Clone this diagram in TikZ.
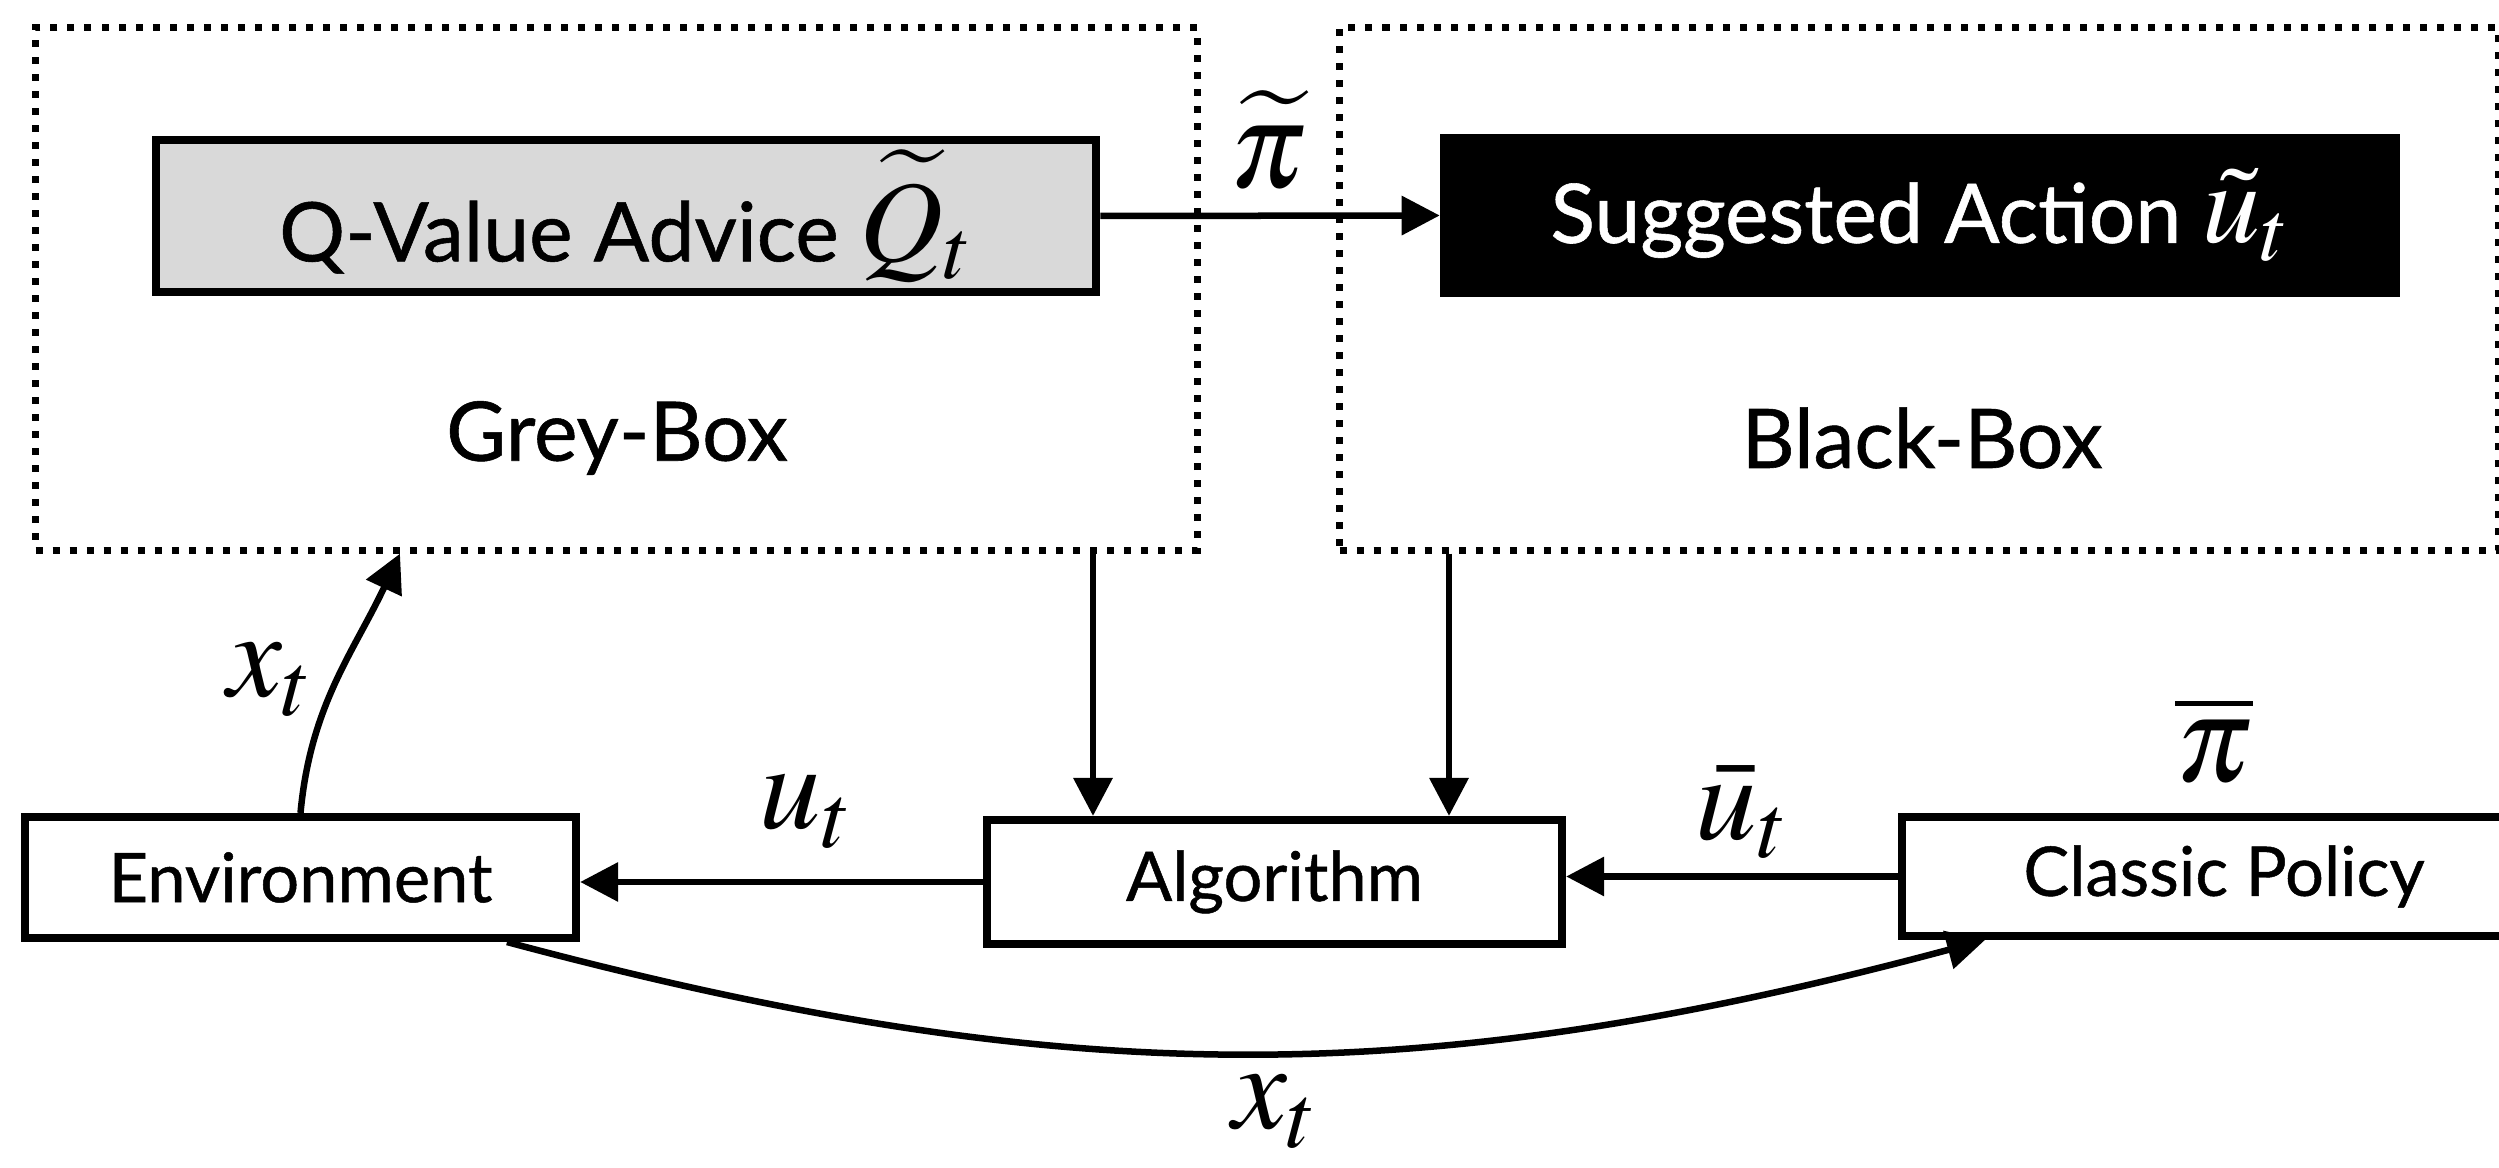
\documentclass[tikz,border=0pt]{standalone}
\usepackage{mathptmx}
\usepackage{fontspec}
\setmainfont{Lato}[FakeBold=0.7]
\usetikzlibrary{arrows.meta}
\definecolor{qgrey}{RGB}{217,217,217}
\tikzset{
  dotbox/.style={draw, line width=0.07cm, dash pattern=on 0.07cm off 0.10cm, minimum height=5.22cm},
  blk/.style={draw, line width=0.08cm, inner sep=0pt},
  arr/.style={-{Triangle[length=0.38cm,width=0.38cm]}, line width=0.065cm},
  txt/.style={font=\fontsize{23.4}{28}\selectfont},
  btxt/.style={font=\fontsize{19.5}{24}\selectfont},
  lbl/.style={font=\fontsize{35}{40}\selectfont, inner sep=0pt},
}
\newcommand{\mybigmath}[1]{{\fontsize{33}{38}\selectfont$#1$}}
\begin{document}
\begin{tikzpicture}[x=0.01cm, y=-0.01cm]
\useasboundingbox (0,0) rectangle (2499,1168);
\clip (0,0) rectangle (2499,1168);
% outer dotted boxes
\node[dotbox, minimum width=11.61cm] (grey) at (616.5,289) {};
\node[txt] (greylbl) at (617,438) {Grey-Box};
\node[dotbox, minimum width=11.58cm] (black) at (1919,289) {};
\node[txt] (blacklbl) at (1922,438) {Black-Box};
% inner boxes
\node[blk, txt, fill=qgrey, minimum width=9.40cm, minimum height=1.52cm] (qv) at (626,216) {Q-Value Advice \mybigmath{\widetilde{Q}_t}};
\node[blk, txt, fill=black, text=white, minimum width=9.52cm, minimum height=1.55cm] (sa) at (1920,215.5) {Suggested Action \mybigmath{\tilde{u}_t}};
\node[lbl] (pitilde) at (1268,140) {$\widetilde{\pi}$};
% bottom row
\node[blk, btxt, minimum width=5.51cm, minimum height=1.21cm] (env) at (300.5,877.5) {Environment};
\node[blk, btxt, minimum width=5.75cm, minimum height=1.24cm] (alg) at (1274.5,882) {Algorithm};
\node[blk, btxt, minimum width=6.44cm, minimum height=1.19cm] (cp) at (2224,876.5) {Classic Policy};
\node[lbl] (pibar) at (2214,740) {$\overline{\pi}$};
\node[lbl] (ut) at (806,812) {$u_t$};
\node[lbl] (ubar) at (1742,812) {$\bar{u}_t$};
\node[lbl] (xtl) at (270,680) {$x_t$};
\node[lbl] (xtb) at (1275,1112) {$x_t$};
% helper coordinates
\coordinate (a1) at (1093,0);
\coordinate (a2) at (1449,0);
\coordinate (g1) at (400,0);
\coordinate (e1) at (507,0);
\coordinate (c1) at (1985,0);
% connectors
\draw[arr] (qv.east) -- (sa.west);
\draw[arr] (grey.south -| a1) -- (alg.north -| a1);
\draw[arr] (black.south -| a2) -- (alg.north -| a2);
\draw[arr] (alg.west) -- (alg.west -| env.east);
\draw[arr] (cp.west) -- (cp.west -| alg.east);
\draw[arr] (env.north) .. controls +(10,-108) and +(-46,98) .. (grey.south -| g1);
\draw[arr] (env.south -| e1) .. controls +(560,150) and +(-560,150) .. (cp.south -| c1);
\end{tikzpicture}
\end{document}
